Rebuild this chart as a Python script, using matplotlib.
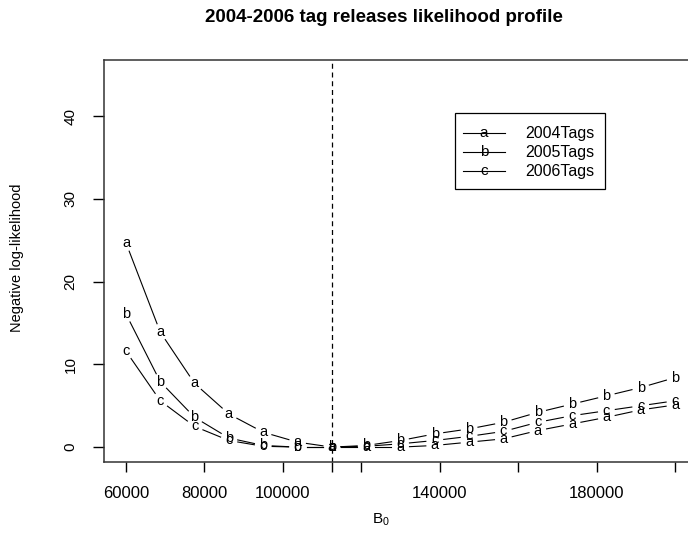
import numpy as np
import matplotlib.pyplot as plt
from matplotlib.patches import Rectangle

plt.rcParams['font.family'] = ['Liberation Sans', 'DejaVu Sans']
plt.rcParams['mathtext.fontset'] = 'custom'
plt.rcParams['mathtext.rm'] = 'Liberation Sans'

## profile points (B0 values tried and negative log-likelihood for each tag year)
b0 = [60000, 68750, 77500, 86250, 95000, 103750, 112500, 121250, 130000,
      138750, 147500, 156250, 165000, 173750, 182500, 191250, 200000]
nll_2004 = [24.7, 13.9, 7.7, 4.0, 1.8, 0.6, 0.0, 0.0, 0.0,
            0.2, 0.6, 1.0, 2.0, 2.8, 3.6, 4.5, 5.1]
nll_2005 = [16.1, 7.9, 3.6, 1.1, 0.2, 0.0, 0.0, 0.2, 0.8,
            1.6, 2.2, 3.0, 4.2, 5.2, 6.2, 7.2, 8.4]
nll_2006 = [11.6, 5.6, 2.5, 0.8, 0.1, 0.0, 0.0, 0.1, 0.4,
            0.8, 1.3, 1.9, 3.0, 3.8, 4.4, 5.0, 5.6]
series_names = ['2004Tags', '2005Tags', '2006Tags']
series_letters = ['a', 'b', 'c']
b0_best = 112500

xticks = [60000, 80000, 100000, 120000, 140000, 160000, 180000, 200000]
xticklabels = ['60000', '80000', '100000', '', '140000', '', '180000', '']
yticks = [0, 10, 20, 30, 40]

fig = plt.figure(figsize=(6.88, 5.4), dpi=100)
# axes box runs a little past the right edge of the picture, like the original
ax = fig.add_axes([104/688, 1 - 462/540, 593/688, 402/540])
ax.set_xlim(60000 - 0.04*140000, 200000 + 0.04*140000)
ax.set_ylim(-0.04*45, 45 + 0.04*45)

gap = 9  # pixels left blank around each letter (R type="b")
for ys, let in zip([nll_2004, nll_2005, nll_2006], series_letters):
    pts = ax.transData.transform(np.column_stack([b0, ys]))
    for i in range(len(pts) - 1):
        p, q = pts[i], pts[i+1]
        d = q - p
        L = np.hypot(*d)
        if L <= 2*gap:
            continue
        u = d / L
        seg = np.array([p + u*gap, q - u*gap])
        seg = ax.transData.inverted().transform(seg)
        ax.plot(seg[:, 0], seg[:, 1], color='black', lw=0.8)
    for x, y in zip(b0, ys):
        ax.text(x, y, let, ha='center', va='center', fontsize=10.5)

ax.axvline(b0_best, color='black', lw=0.9, ls=(0, (4, 3)))

ax.set_xticks(xticks + [b0_best])
ax.set_xticklabels(xticklabels + [''])
ax.set_yticks(yticks)
ax.set_yticklabels([str(v) for v in yticks], rotation=90, va='center')
ax.tick_params(axis='x', length=7, width=1, pad=10, labelsize=12)
ax.tick_params(axis='y', length=8, width=1, pad=11, labelsize=11)
for s in ax.spines.values():
    s.set_linewidth(1.1)
    s.set_color('#333333')

# legend box drawn by hand
lx0, lx1, ly0, ly1 = 0.592, 0.845, 0.679, 0.868
ax.add_patch(Rectangle((lx0, ly0), lx1 - lx0, ly1 - ly0, transform=ax.transAxes,
                       fill=False, lw=0.9, ec='black'))
rows = [0.818, 0.771, 0.723]
for yy, let, name in zip(rows, series_letters, series_names):
    ax.plot([0.605, 0.676], [yy, yy], color='black', lw=0.8, transform=ax.transAxes)
    ax.text(0.6405, yy, let, ha='center', va='center', fontsize=11, transform=ax.transAxes)
    ax.text(0.710, yy, name, ha='left', va='center', fontsize=11.5, transform=ax.transAxes)

fig.text(0.558, 1 - 17/540, '2004-2006 tag releases likelihood profile',
         ha='center', va='center', fontsize=13.5, fontweight='bold')
fig.text(381/688, 1 - 520/540, r'B$_\mathrm{0}$', ha='center', va='center', fontsize=11)
fig.text(17/688, 1 - 258/540, 'Negative log-likelihood', rotation=90,
         ha='center', va='center', fontsize=10.5)

fig.savefig('out.png', dpi=100)
